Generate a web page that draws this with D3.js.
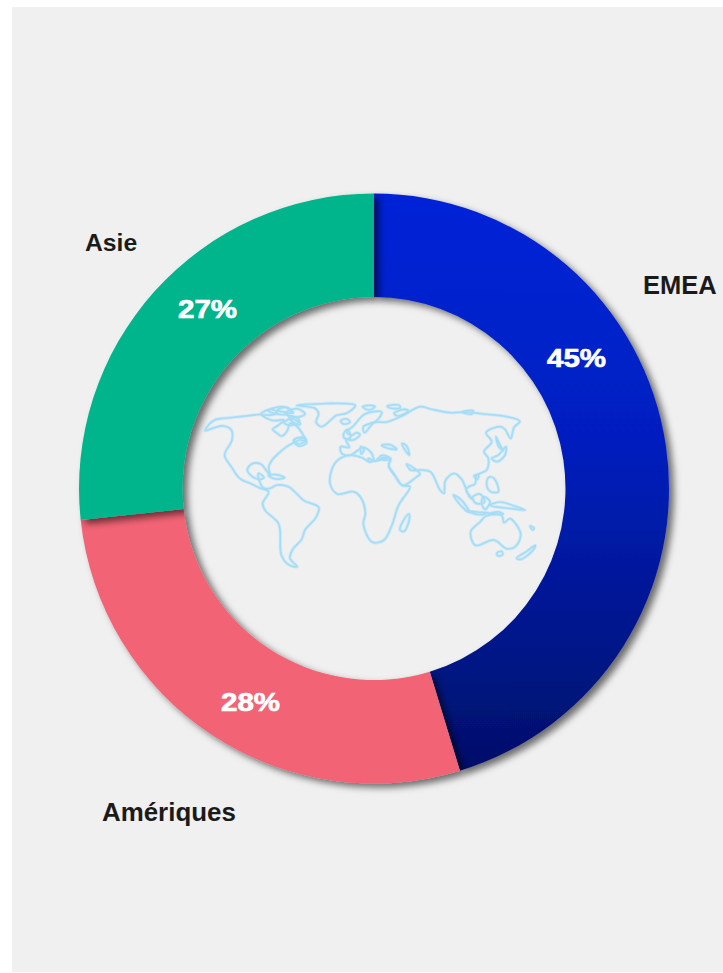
<!DOCTYPE html>
<meta charset="utf-8" />
<script src="https://d3js.org/d3.v7.min.js"></script>
<style>
  html, body { margin: 0; background: #fff; }
  svg { display: block; }
</style>
<svg width="723" height="973"></svg>
<script>
// chart data
var regions = ["EMEA", "Amériques", "Asie"];
var shares = [45.3, 28, 26.7]; // slice sizes as drawn, labels are rounded
var shareLabels = ["45%", "28%", "27%"];
var sliceColors = ["url(#emeaFill)", "#f26475", "#00b48c"];

// world outline (units = px of the zoomed crop, 3x)
var mapClosed = [
  // the Americas
  [[45,122],[60,100],[78,88],[110,84],[150,80],[185,76],[212,74],[228,84],[250,92],[282,90],[262,108],[248,118],[262,130],[275,138],[292,122],[300,100],[322,110],[335,128],[348,152],[328,150],[312,158],[290,170],[268,188],[248,208],[236,232],[240,255],[228,240],[212,222],[185,222],[172,240],[190,262],[205,268],[218,292],[236,296],[262,285],[295,290],[325,316],[342,332],[386,352],[378,382],[345,420],[335,448],[308,478],[300,505],[322,530],[296,524],[274,495],[266,402],[226,362],[218,340],[236,305],[212,295],[180,280],[150,266],[125,232],[104,195],[126,150],[124,120],[100,108],[70,114]],
  // Greenland
  [[375,55],[320,46],[380,42],[432,40],[496,46],[470,70],[440,76],[395,110],[378,96],[386,72]],
  // Arctic islands
  [[212,72],[240,58],[262,66],[250,74]], [[235,62],[275,50],[305,62],[285,74]], [[285,70],[320,56],[345,72],[318,82]],
  [[282,98],[305,86],[325,98],[300,106]], [[310,152],[325,144],[348,150],[330,162]], [[262,60],[290,52],[310,68],[280,66]],
  [[296,78],[322,84],[330,104],[308,96]], [[312,150],[340,142],[350,158],[325,168]],
  // Cuba, Hispaniola
  [[235,256],[260,254],[284,263],[256,267]], [[205,250],[222,262],[208,268]],
  // Iceland, UK, Ireland
  [[452,92],[472,87],[480,97],[460,102]], [[460,135],[472,118],[482,142],[466,146]],
  // Africa
  [[460,200],[432,224],[420,280],[442,312],[490,305],[512,322],[526,370],[520,402],[546,456],[582,450],[606,405],[626,345],[660,290],[636,286],[612,252],[596,226],[600,205],[560,212],[535,214],[518,204],[490,196]],
  // Eurasia
  [[455,190],[452,170],[478,172],[468,150],[490,150],[510,134],[500,128],[484,136],[470,126],[490,108],[525,72],[575,66],[560,92],[520,110],[524,128],[552,98],[590,96],[640,76],[690,50],[725,58],[780,68],[830,66],[880,72],[940,78],[990,94],[972,112],[962,146],[945,118],[930,110],[888,128],[905,155],[882,185],[895,205],[890,240],[860,256],[855,282],[836,290],[828,300],[848,328],[838,320],[815,268],[792,250],[766,272],[762,310],[750,300],[722,246],[692,240],[662,240],[650,222],[690,252],[678,262],[638,286],[618,262],[596,228],[602,206],[575,196],[555,214],[545,190],[520,172],[505,180],[480,196]],
  // Black Sea, Caspian
  [[575,166],[600,164],[620,178],[592,174]], [[636,160],[650,168],[658,195],[645,180]],
  // Mediterranean islands
  [[512,170],[522,178],[514,192]], [[535,205],[548,212],[538,216]], [[572,205],[592,202],[598,208],[580,210]],
  // Madagascar
  [[630,420],[640,392],[656,372],[658,388],[642,424]],
  // Australia
  [[842,425],[870,396],[888,378],[935,376],[942,398],[960,386],[992,432],[976,470],[950,476],[912,450],[856,466]],
  // Tasmania, New Zealand, New Caledonia
  [[920,490],[935,484],[938,494],[925,498]], [[980,505],[1010,484],[1036,466],[1028,482],[992,508]], [[1020,408],[1032,414],[1028,420]],
  // Sumatra, Java, Borneo
  [[790,315],[812,328],[838,365],[820,354]], [[826,362],[860,366],[896,368],[870,374]], [[848,322],[870,312],[884,336],[858,340]],
  // Sulawesi, New Guinea, Timor
  [[880,320],[900,335],[885,358],[875,340]], [[900,346],[930,336],[965,345],[1005,360],[965,356]], [[895,372],[925,366],[940,372]],
  // Philippines, Taiwan
  [[896,262],[912,265],[925,305],[902,305],[890,285]], [[852,258],[866,254],[862,268]],
  // Japan, Sakhalin
  [[905,205],[925,195],[948,170],[945,195],[922,215]], [[918,140],[930,165],[940,182],[926,170]],
  // Russian Arctic islands
  [[518,50],[540,46],[555,50],[535,60]], [[592,48],[628,46],[630,54],[600,54]], [[612,70],[640,58],[655,62],[625,78]], [[815,66],[850,62],[845,72]]
];

var width = 723, height = 973;
var cx = 374, cy = 488.5, outerR = 295, innerR = 191.5;

var svg = d3.select("svg");
var defs = svg.append("defs");

// gradient and filter live in the donut group's coords (origin = centre)
var grad = defs.append("linearGradient").attr("id", "emeaFill")
  .attr("gradientUnits", "userSpaceOnUse")
  .attr("x1", 0).attr("x2", 0).attr("y1", -outerR).attr("y2", outerR - 12);
grad.append("stop").attr("offset", "0").attr("stop-color", "#0024d8");
grad.append("stop").attr("offset", "0.42").attr("stop-color", "#001fc0");
grad.append("stop").attr("offset", "1").attr("stop-color", "#000f68");

defs.append("filter").attr("id", "shadow")
  .attr("filterUnits", "userSpaceOnUse")
  .attr("x", -cx).attr("y", -cy).attr("width", width).attr("height", height)
  .append("feDropShadow")
  .attr("dx", 5).attr("dy", 4).attr("stdDeviation", 3.5)
  .attr("flood-color", "#000").attr("flood-opacity", 0.55);

// background panel
svg.append("rect").attr("x", 12).attr("y", 7).attr("width", 711).attr("height", 965).attr("fill", "#f0f0f0");

// donut
var pie = d3.pie().sort(null).value(function (d) { return d; });
var arc = d3.arc().innerRadius(innerR).outerRadius(outerR);

svg.append("g")
  .attr("transform", "translate(" + cx + "," + cy + ")")
  .selectAll("path")
  .data(pie(shares))
  .enter()
  .append("path")
  .attr("d", arc)
  .attr("fill", function (d, i) { return sliceColors[i]; })
  .attr("filter", "url(#shadow)");

// world map in the hole
var xMap = d3.scaleLinear().domain([0, 1050]).range([190, 540]);
var yMap = d3.scaleLinear().domain([0, 570]).range([390, 580]);
var outline = d3.line()
  .x(function (d) { return xMap(d[0]); })
  .y(function (d) { return yMap(d[1]); })
  .curve(d3.curveCatmullRomClosed.alpha(0.5));

// soft halo under the line, the original is a bit blurry
[[3.4, "#cfeaf7"], [1.7, "#a6dcf5"]].forEach(function (s) {
  svg.append("g")
    .selectAll("path")
    .data(mapClosed)
    .enter()
    .append("path")
    .attr("d", outline)
    .attr("fill", "none")
    .attr("stroke", s[1])
    .attr("stroke-width", s[0])
    .attr("stroke-linejoin", "round");
});

// region names
var nameX = [643, 102, 85], nameY = [294, 821, 251], nameSize = [25.5, 25.9, 24.7];
svg.append("g")
  .selectAll("text")
  .data(regions)
  .enter()
  .append("text")
  .attr("x", function (d, i) { return nameX[i]; })
  .attr("y", function (d, i) { return nameY[i]; })
  .attr("font-family", "'Liberation Sans', Arial, sans-serif")
  .attr("font-weight", "bold")
  .attr("font-size", function (d, i) { return nameSize[i]; })
  .attr("fill", "#1a1a1a")
  .text(function (d) { return d; });

// percent labels (wide, heavy face in the original)
var pctX = [547, 221, 178], pctY = [367, 711, 318];
svg.append("g")
  .selectAll("text")
  .data(shareLabels)
  .enter()
  .append("text")
  .attr("x", function (d, i) { return pctX[i]; })
  .attr("y", function (d, i) { return pctY[i]; })
  .attr("textLength", 59)
  .attr("lengthAdjust", "spacingAndGlyphs")
  .attr("font-family", "'Liberation Sans', Arial, sans-serif")
  .attr("font-weight", "bold")
  .attr("font-size", 25)
  .attr("fill", "#fff")
  .attr("stroke", "#fff")
  .attr("stroke-width", 0.7)
  .text(function (d) { return d; });
</script>
